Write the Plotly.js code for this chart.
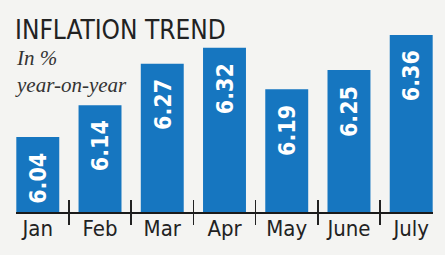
<!DOCTYPE html>
<html>
<head>
<meta charset="utf-8">
<script src="https://cdn.plot.ly/plotly-3.0.1.min.js"></script>
<style>
html,body{margin:0;padding:0;background:#f4f4f2;}
#chart{width:445px;height:255px;}
#chart text{font-stretch:condensed;}
</style>
</head>
<body>
<div id="chart"></div>
<script>
const months = ["Jan", "Feb", "Mar", "Apr", "May", "June", "July"];
const inflation = [6.04, 6.14, 6.27, 6.32, 6.19, 6.25, 6.36];
const valueLabels = ["6.04", "6.14", "6.27", "6.32", "6.19", "6.25", "6.36"];
const boundaryTicks = [0.5, 1.5, 2.5, 3.5, 4.5, 5.5];

const sans = '"DejaVu Sans Condensed", "DejaVu Sans", sans-serif';
const serif = '"Liberation Serif", "DejaVu Serif", serif';
const xr = [-0.35, 6.35];

// value labels, placed through the axes at each bar's top, shifted down inside the bar
const valueAnnotations = months.map((m, i) => ({
  x: m, y: inflation[i], xref: "x", yref: "y",
  text: valueLabels[i],
  textangle: -90,
  showarrow: true, arrowcolor: "rgba(0,0,0,0)", arrowwidth: 0.1,
  ax: 0, ay: 41,
  font: {family: sans, size: 23, color: "#ffffff", weight: "bold"}
}));

const data = [
  {
    type: "bar",
    x: months,
    y: inflation,
    marker: {color: "#1676c0"},
    hoverinfo: "none",
    cliponaxis: true
  },
  {type: "scatter", x: [], y: [], xaxis: "x2", yaxis: "y", showlegend: false, hoverinfo: "none"},
  {type: "scatter", x: [], y: [], xaxis: "x3", yaxis: "y", showlegend: false, hoverinfo: "none"}
];

const layout = {
  width: 445,
  height: 255,
  paper_bgcolor: "#f4f4f2",
  plot_bgcolor: "rgba(0,0,0,0)",
  margin: {l: 16, r: 12, t: 35, b: 43},
  showlegend: false,
  bargap: 0.31,
  title: {
    text: "INFLATION TREND",
    font: {family: sans, size: 26, color: "#222222"},
    xref: "container", yref: "container",
    x: 15/445, xanchor: "left",
    y: 1 - 30/255, yanchor: "middle"
  },
  annotations: [
    {
      text: "In %<br>year-on-year",
      xref: "paper", yref: "paper",
      x: -3/417, y: (212 - 71)/177, xanchor: "left", yanchor: "middle",
      align: "left", showarrow: false,
      font: {family: serif, size: 21, color: "#333333", style: "italic"}
    }
  ].concat(valueAnnotations),
  xaxis: {
    type: "category",
    range: xr,
    showline: true, linecolor: "#1a1a1a", linewidth: 2,
    ticks: "",
    ticklabelstandoff: -4,
    showgrid: false, zeroline: false,
    tickfont: {family: sans, size: 22, color: "#222222"},
    fixedrange: true
  },
  xaxis2: {
    overlaying: "x", type: "linear", range: xr,
    tickmode: "array", tickvals: boundaryTicks,
    ticks: "outside", ticklen: 12, tickwidth: 1.5, tickcolor: "#222222",
    showticklabels: false, showgrid: false, zeroline: false, showline: false
  },
  xaxis3: {
    overlaying: "x", type: "linear", range: xr,
    tickmode: "array", tickvals: boundaryTicks,
    ticks: "inside", ticklen: 12, tickwidth: 1.5, tickcolor: "#222222",
    showticklabels: false, showgrid: false, zeroline: false, showline: false
  },
  yaxis: {
    range: [5.805, 6.36],
    visible: false,
    showgrid: false, zeroline: false,
    fixedrange: true
  }
};

Plotly.newPlot("chart", data, layout, {displayModeBar: false, staticPlot: true});
</script>
</body>
</html>
